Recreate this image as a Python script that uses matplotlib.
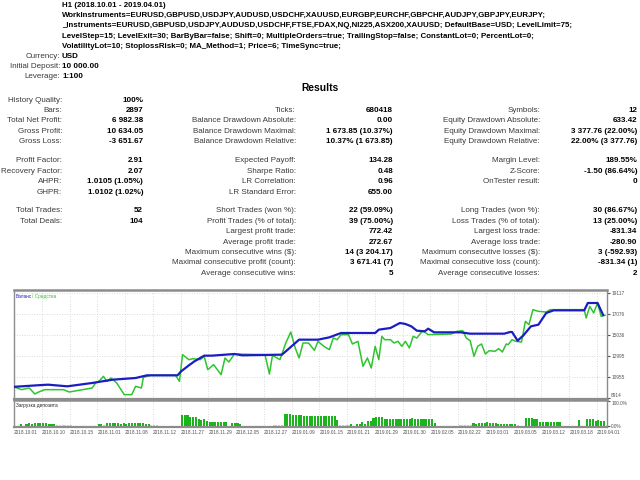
import matplotlib
matplotlib.use("Agg")
import matplotlib.pyplot as plt

W, H = 640, 480

plt.rcParams["font.family"] = ["Liberation Sans", "DejaVu Sans"]

# ---------------------------------------------------------------------------
# Report text
# ---------------------------------------------------------------------------
HEADER = [
    "H1 (2018.10.01 - 2019.04.01)",
    "WorkInstruments=EURUSD,GBPUSD,USDJPY,AUDUSD,USDCHF,XAUUSD,EURGBP,EURCHF,GBPCHF,AUDJPY,GBPJPY,EURJPY;",
    "_Instruments=EURUSD,GBPUSD,USDJPY,AUDUSD,USDCHF,FTSE,FDAX,NQ,NI225,ASX200,XAUUSD; DefaultBase=USD; LevelLimit=75;",
    "LevelStep=15; LevelExit=30; BarByBar=false; Shift=0; MultipleOrders=true; TrailingStop=false; ConstantLot=0; PercentLot=0;",
    "VolatilityLot=10; StoplossRisk=0; MA_Method=1; Price=6; TimeSync=true;",
]
ACCOUNT = [("Currency:", "USD"), ("Initial Deposit:", "10 000.00"), ("Leverage:", "1:100")]

ROW_Y = [100, 110.3, 120.7, 131.1, 141.5, 161, 171.3, 181.7, 192,
         211, 221.3, 231.7, 242, 252.4, 262.8, 273.2]

LEFT_STATS = [
    (0, "History Quality:", "100%"),
    (1, "Bars:", "2897"),
    (2, "Total Net Profit:", "6 982.38"),
    (3, "Gross Profit:", "10 634.05"),
    (4, "Gross Loss:", "-3 651.67"),
    (5, "Profit Factor:", "2.91"),
    (6, "Recovery Factor:", "2.07"),
    (7, "AHPR:", "1.0105 (1.05%)"),
    (8, "GHPR:", "1.0102 (1.02%)"),
    (9, "Total Trades:", "52"),
    (10, "Total Deals:", "104"),
]
MID_STATS = [
    (1, "Ticks:", "680418"),
    (2, "Balance Drawdown Absolute:", "0.00"),
    (3, "Balance Drawdown Maximal:", "1 673.85 (10.37%)"),
    (4, "Balance Drawdown Relative:", "10.37% (1 673.85)"),
    (5, "Expected Payoff:", "134.28"),
    (6, "Sharpe Ratio:", "0.48"),
    (7, "LR Correlation:", "0.96"),
    (8, "LR Standard Error:", "655.00"),
    (9, "Short Trades (won %):", "22 (59.09%)"),
    (10, "Profit Trades (% of total):", "39 (75.00%)"),
    (11, "Largest profit trade:", "772.42"),
    (12, "Average profit trade:", "272.67"),
    (13, "Maximum consecutive wins ($):", "14 (3 204.17)"),
    (14, "Maximal consecutive profit (count):", "3 671.41 (7)"),
    (15, "Average consecutive wins:", "5"),
]
RIGHT_STATS = [
    (1, "Symbols:", "12"),
    (2, "Equity Drawdown Absolute:", "633.42"),
    (3, "Equity Drawdown Maximal:", "3 377.76 (22.00%)"),
    (4, "Equity Drawdown Relative:", "22.00% (3 377.76)"),
    (5, "Margin Level:", "189.55%"),
    (6, "Z-Score:", "-1.50 (86.64%)"),
    (7, "OnTester result:", "0"),
    (9, "Long Trades (won %):", "30 (86.67%)"),
    (10, "Loss Trades (% of total):", "13 (25.00%)"),
    (11, "Largest loss trade:", "-831.34"),
    (12, "Average loss trade:", "-280.90"),
    (13, "Maximum consecutive losses ($):", "3 (-592.93)"),
    (14, "Maximal consecutive loss (count):", "-831.34 (1)"),
    (15, "Average consecutive losses:", "2"),
]

# ---------------------------------------------------------------------------
# Chart data (x in date-label slots)
# ---------------------------------------------------------------------------
DATE_LABELS = [
    "2018.10.01", "2018.10.10", "2018.10.15", "2018.11.01", "2018.11.08", "2018.11.12",
    "2018.11.27", "2018.11.29", "2018.12.05", "2018.12.27", "2019.01.09", "2019.01.15",
    "2019.01.21", "2019.01.29", "2019.01.30", "2019.02.05", "2019.02.22", "2019.03.01",
    "2019.03.05", "2019.03.12", "2019.03.18", "2019.04.01",
]
EQUITY_TICKS = [8914, 10955, 12995, 15036, 17076, 19117]

BALANCE_X = [0, 0.82, 1.23, 1.92, 2.81, 3.56, 4.38, 4.79, 5.89, 6.02, 6.30, 6.50,
             6.85, 7.12, 7.94, 8.22, 9.65, 9.86, 10.27, 10.95, 11.36, 11.78, 13.01,
             13.14, 13.56, 13.90, 14.10, 14.31, 14.51, 14.79, 14.92, 15.13, 16.09,
             16.43, 17.66, 17.87, 17.94, 18.14, 18.35, 18.62, 18.89, 19.17, 19.44,
             20.54, 20.67, 21.02, 21.22]
BALANCE_Y = [10000, 10145, 10210, 10048, 10372, 10696, 10857, 11117, 11117, 11505,
             12088, 12477, 13028, 13028, 13190, 13060, 13125, 13611, 14582, 14582,
             14809, 15230, 15230, 15554, 15716, 16202, 16105, 15878, 15457, 15392,
             15651, 15295, 15295, 15165, 15165, 15327, 15327, 14485, 15003, 15878,
             16040, 17173, 17433, 17433, 18145, 18145, 16982]

EQUITY_X = [0, 0.27, 0.55, 0.75, 0.89, 1.10, 1.78, 1.99, 2.81, 2.94, 3.08, 3.22,
            3.35, 3.49, 3.70, 3.97, 4.24, 4.38, 4.59, 4.66, 4.93, 5.82, 5.96, 6.07,
            6.30, 6.44, 6.71, 6.85, 6.98, 7.19, 7.46, 7.60, 7.74, 7.94, 9.04, 9.20,
            9.31, 9.58, 9.79, 9.97, 10.13, 10.27, 10.41, 10.61, 10.82, 10.95, 11.16,
            11.36, 11.50, 11.64, 11.78, 12.05, 12.19, 12.39, 12.57, 12.73, 12.87,
            13.01, 13.14, 13.25, 13.35, 13.56, 13.69, 13.83, 13.97, 14.10, 14.24,
            14.38, 14.51, 14.72, 14.92, 15.75, 15.95, 16.16, 16.29, 16.43, 16.57,
            16.70, 16.84, 16.98, 17.12, 17.32, 17.46, 17.59, 17.73, 17.80, 17.94,
            18.07, 18.28, 18.42, 18.55, 18.69, 18.89, 19.17, 19.31, 20.54, 20.61,
            20.74, 20.88, 21.02, 21.15, 21.29]
EQUITY_Y = [10000, 9724, 9886, 9303, 9497, 9724, 9724, 9497, 9886, 10372, 10598,
            11019, 10534, 10857, 10372, 9238, 9238, 10048, 9886, 10922, 11117, 11117,
            10534, 13125, 12639, 12736, 12639, 12963, 11667, 12153, 11181, 12801,
            12412, 13190, 13125, 11246, 13060, 12639, 14258, 15327, 13773, 12801,
            14258, 14258, 13546, 14420, 13935, 13611, 14744, 14582, 15068, 15068,
            14161, 14420, 11991, 12801, 11829, 13935, 12639, 14906, 14582, 14582,
            14258, 14420, 13935, 14420, 13773, 14906, 14744, 15457, 15068, 15133,
            15392, 15457, 14744, 14485, 12963, 13935, 14161, 13190, 13514, 13449,
            13708, 13384, 14161, 14096, 14582, 14420, 14355, 16363, 16040, 17497,
            17335, 17270, 17497, 17497, 16688, 17821, 17173, 18145, 16850, 16947]

# deposit load (%), one value per 0.1 slot
LOAD_PCT = [
    0, 0, 7, 0, 7, 13, 8, 13, 13, 13,
    13, 11, 7, 7, 7, 4, 4, 4, 4, 4,
    4, 0, 0, 0, 0, 0, 0, 0, 0, 0,
    7, 7, 5, 11, 11, 11, 11, 11, 7, 13,
    8, 13, 13, 13, 11, 11, 11, 7, 7, 4,
    4, 4, 0, 0, 0, 0, 0, 0, 0, 0,
    43, 43, 43, 37, 37, 37, 29, 24, 27, 20,
    17, 17, 17, 17, 17, 16, 16, 0, 13, 13,
    13, 7, 0, 0, 0, 0, 0, 0, 0, 0,
    0, 0, 0, 4, 4, 4, 4, 47, 47, 47,
    43, 43, 43, 45, 40, 40, 40, 40, 40, 40,
    40, 40, 40, 40, 40, 40, 24, 4, 4, 4,
    4, 7, 0, 7, 7, 16, 8, 20, 20, 33,
    37, 37, 37, 29, 29, 29, 29, 29, 29, 29,
    29, 27, 29, 33, 29, 29, 29, 29, 29, 29,
    29, 13, 0, 0, 0, 0, 0, 0, 0, 0,
    4, 4, 4, 4, 4, 13, 7, 13, 13, 13,
    16, 13, 13, 13, 8, 8, 8, 8, 8, 8,
    8, 4, 0, 0, 33, 33, 33, 29, 27, 17,
    17, 17, 17, 17, 17, 17, 17, 0, 0, 0,
    0, 0, 0, 24, 0, 0, 27, 27, 27, 20,
    24, 20, 20, 0,
]

FS = 5.8
HEAD_FS = 5.7
LABEL_C = "#3a3a3a"

fig = plt.figure(figsize=(W / 100, H / 100), dpi=100)


def put(x, y, s, **kw):
    kw.setdefault("fontsize", FS)
    kw.setdefault("va", "center")
    fig.text(x / W, 1 - y / H, s, **kw)


# header block
for i, line in enumerate(HEADER):
    put(62, 5.7 + 10.1 * i, line, fontweight="bold", color="black", fontsize=HEAD_FS)
for i, (lab, val) in enumerate(ACCOUNT):
    y = 56 + 10.1 * i
    put(60, y, lab, ha="right", color=LABEL_C)
    put(62, y, val, fontweight="bold", color="black")

put(320, 88, "Results", ha="center", fontsize=7.4, fontweight="bold")

for stats, lab_x, val_x in ((LEFT_STATS, 62, 143), (MID_STATS, 296, 393),
                            (RIGHT_STATS, 540, 637)):
    for row, lab, val in stats:
        put(lab_x, ROW_Y[row], lab, ha="right", color=LABEL_C)
        put(val_x, ROW_Y[row], val, ha="right", fontweight="bold", color="black")

# ---------------------------------------------------------------------------
# Balance / equity chart
# ---------------------------------------------------------------------------
x_max = 21.36
main = fig.add_axes([14 / W, 1 - 399 / H, 593 / W, 109 / H])
main.plot(EQUITY_X, EQUITY_Y, color="#2fc42f", linewidth=1.1, zorder=3)
main.plot(BALANCE_X, BALANCE_Y, color="#1c1cc4", linewidth=1.6, zorder=4)
main.set_xlim(0, x_max)
main.set_ylim(8817, 19408)
main.set_xticks(range(len(DATE_LABELS)))
main.set_xticklabels([])
main.set_yticks(EQUITY_TICKS)
main.yaxis.tick_right()
main.tick_params(axis="y", labelsize=3.4, length=2, pad=1, colors="#505050")
main.tick_params(axis="x", length=0)
main.get_yticklabels()[0].set_va("bottom")
main.grid(True, color="#cfcfcf", linestyle=(0, (1, 2)), linewidth=0.6)
main.text(0.003, 0.94, "Баланс", transform=main.transAxes, fontsize=3.4,
          color="#1c1cc4", va="center")
main.text(0.031, 0.94, "/ Средства", transform=main.transAxes, fontsize=3.4,
          color="#2fc42f", va="center")

load = fig.add_axes([14 / W, 1 - 427 / H, 593 / W, 27 / H])
bar_x = [i * 0.1 + 0.05 for i in range(len(LOAD_PCT))]
bar_c = ["#a8e0a8" if v <= 5 else "#1cb41c" for v in LOAD_PCT]
load.bar(bar_x, LOAD_PCT, width=0.075, color=bar_c, zorder=3)
load.set_xlim(0, x_max)
load.set_ylim(-4, 104)
load.set_xticks(range(len(DATE_LABELS)))
load.set_xticklabels(DATE_LABELS, ha="left")
load.set_yticks([0, 100])
load.set_yticklabels(["0.0%", "100.0%"])
load.yaxis.tick_right()
load.tick_params(axis="y", labelsize=3.4, length=2, pad=1, colors="#505050")
load.tick_params(axis="x", labelsize=3.4, length=0, pad=2, colors="#505050")
load.get_yticklabels()[1].set_va("top")
load.grid(True, axis="x", color="#cfcfcf", linestyle=(0, (1, 2)), linewidth=0.6)
load.text(0.003, 0.78, "Загрузка депозита", transform=load.transAxes,
          fontsize=3.4, color="#202020", va="center")

for ax in (main, load):
    for side, sp in ax.spines.items():
        sp.set_color("#8c8c8c")
        sp.set_linewidth(1.0)
    ax.spines["top"].set_linewidth(1.8)
    ax.spines["bottom"].set_linewidth(1.6)
    ax.set_axisbelow(True)

fig.savefig("out.png", dpi=100)
